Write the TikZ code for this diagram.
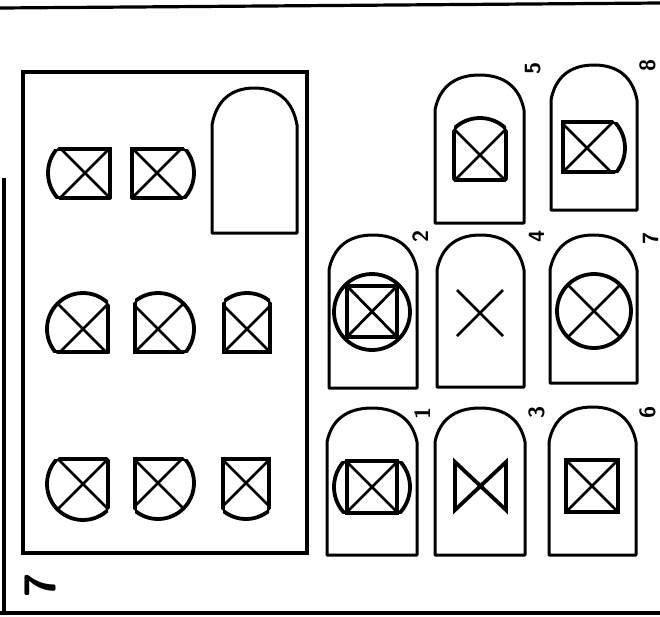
\documentclass[tikz,border=0pt]{standalone}
\tikzset{
  frame/.style={line width=1.6pt},
  archline/.style={line width=1.5pt, line join=round},
  figline/.style={line width=1.9pt},
  xline/.style={line width=1.4pt},
  lab/.style={font=\sffamily\bfseries\fontsize{11}{11}\selectfont, rotate=90, inner sep=0pt}
}
% arch: left, right, top, shoulder, bottom
\newcommand\archshape[5]{%
  \draw[archline] (#1,#5) -- (#1,#4)
    .. controls ({#1+0.05*(#2-#1)},{#4-0.65*(#4-#3)}) and ({#1+0.22*(#2-#1)},#3) .. ({(#1+#2)/2},#3)
    .. controls ({#2-0.22*(#2-#1)},#3) and ({#2-0.05*(#2-#1)},{#4-0.65*(#4-#3)}) .. (#2,#4)
    -- (#2,#5) -- cycle;}
% figure: cx, cy, radius(pt), L, R, T, B
\newcommand\cfig[7]{%
  \begin{scope}
    \clip ({#1-#4},{#2-#6}) rectangle ({#1+#5},{#2+#7});
    \draw[figline] (#1,#2) circle[radius=#3pt];
  \end{scope}
  \begin{scope}
    \clip (#1,#2) circle[radius=#3pt];
    \draw[figline] ({#1-#4},{#2-#6}) rectangle ({#1+#5},{#2+#7});
    \clip ({#1-#4},{#2-#6}) rectangle ({#1+#5},{#2+#7});
    \draw[xline] ({#1-45},{#2-45}) -- ({#1+45},{#2+45})
                 ({#1-45},{#2+45}) -- ({#1+45},{#2-45});
  \end{scope}}
\begin{document}
\begin{tikzpicture}[x=0.5pt, y=-0.5pt]
\useasboundingbox (0,0) rectangle (660,617);
% page lines
\draw[frame] (0,8) -- (660,3);
\draw[frame] (0,613) -- (660,613);
\draw[frame] (4,178) -- (4,613);
% problem box
\draw[line width=2pt] (23,72) rectangle (307,553);
\archshape{212}{297}{88}{125}{233}
% matrix figures
\cfig{85}{173}{18.5}{60}{25}{24}{25}
\cfig{157}{173}{18.5}{25}{60}{24}{25}
\cfig{83}{329}{18}{60}{25}{60}{23}
\cfig{158}{329}{18}{23}{60}{60}{23}
\cfig{247}{329}{18}{23}{23}{60}{23}
\cfig{83}{484}{18}{60}{25}{25}{60}
\cfig{158}{483}{18}{23}{60}{24}{60}
\cfig{246}{483}{18}{23}{23}{24}{60}
\node[lab, font=\sffamily\bfseries\fontsize{22}{22}\selectfont] (pnum) at (40,585) {7};
% answer arches
\archshape{435}{524}{75}{110}{223}
\archshape{551}{637}{65}{100}{210}
\archshape{329}{417}{235}{270}{388}
\archshape{437}{524}{235}{270}{387}
\archshape{550}{637}{235}{270}{383}
\archshape{327}{417}{408}{442}{555}
\archshape{435}{525}{408}{442}{555}
\archshape{549}{636}{407}{442}{555}
% answer 5
\cfig{480}{155}{18.5}{26}{26}{60}{25}
% answer 8
\cfig{587}{148}{19}{24}{60}{26}{24}
% answer 2
\draw[figline] (372,312) circle[radius=19pt];
\draw[figline] (347,286) rectangle (397,337);
\draw[xline] (347,286) -- (397,337) (347,337) -- (397,286);
% answer 4
\draw[xline] (457,290) -- (503,336) (457,336) -- (503,290);
% answer 7
\cfig{594}{311}{18.5}{60}{60}{60}{60}
% answer 1
\cfig{372}{487}{19}{60}{60}{26}{26}
\draw[figline] (347,461) rectangle (397,513);
% answer 3
\draw[figline] (455,462) -- (506,510) -- (506,462) -- (455,510) -- cycle;
% answer 6
\draw[figline] (566,460) rectangle (618,512);
\draw[xline] (566,460) -- (618,512) (566,512) -- (618,460);
% labels
\node[lab] (l5) at (533,68) {5};
\node[lab] (l8) at (648,65) {8};
\node[lab] (l2) at (421,236) {2};
\node[lab] (l4) at (537,236) {4};
\node[lab] (l7) at (651,238) {7};
\node[lab] (l1) at (423,413) {1};
\node[lab] (l3) at (537,412) {3};
\node[lab] (l6) at (648,412) {6};
\end{tikzpicture}
\end{document}
